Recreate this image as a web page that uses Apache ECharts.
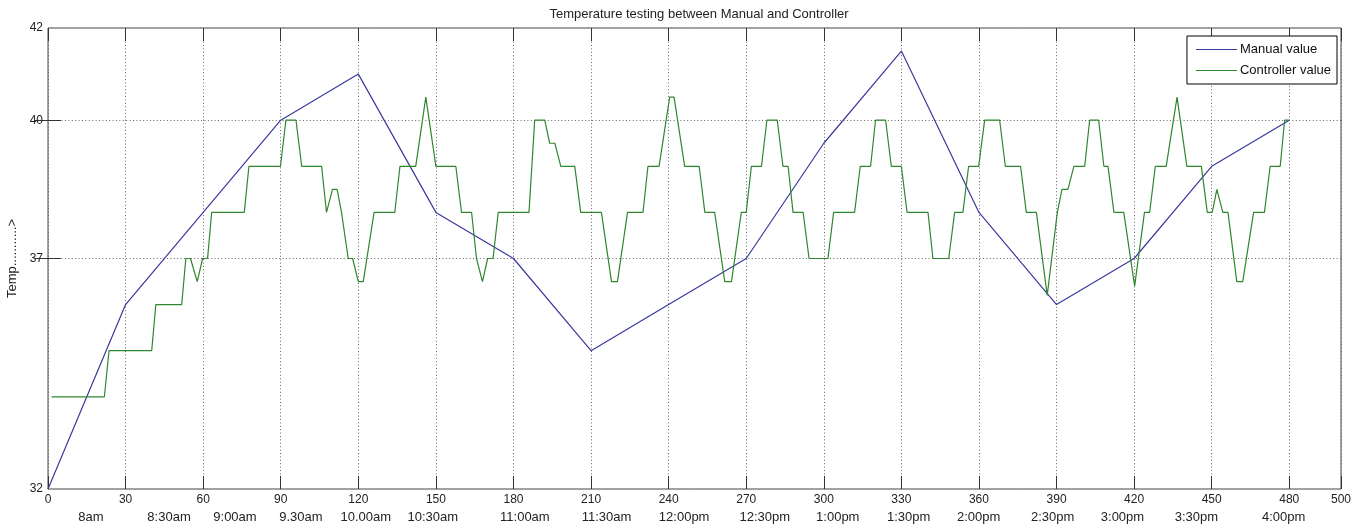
<!DOCTYPE html>
<html lang="en">
<head>
    <meta charset="UTF-8">
    <title>Temperature testing between Manual and Controller</title>
    <style>
        html, body { margin: 0; padding: 0; background: #fff; }
        #main { width: 1370px; height: 532px; }
    </style>
    <script src="https://cdn.jsdelivr.net/npm/echarts@6/dist/echarts.min.js"></script>
</head>
<body>

<div id="main"></div>

<script>

    // manual readings, every 30 minutes
    var manualTime = [0, 30, 60, 90, 120, 150, 180, 210, 240, 270, 300, 330, 360, 390, 420, 450, 480];
    var manualTemp = [32, 36, 38, 40, 41, 38, 37, 35, 36, 37, 39.5, 41.5, 38, 36, 37, 39, 40];

    // controller readings (breakpoints of the trace)
    var ctrlTime = [1.4, 21.8, 23.6, 40.1, 41.7, 51.7, 53.3, 55.1, 57.7, 59.8, 61.7, 63.3, 75.9, 77.7, 89.9,
        92, 95.9, 98.1, 105.8, 107.7, 110, 111.8, 113.5, 116.1, 117.8, 120, 121.9, 126.1, 134.1, 136.1,
        142.2, 146.1, 150, 157.7, 159.9, 163.8, 165.7, 168, 170, 172.1, 174.1, 186, 188.2, 192.1, 194,
        196, 198.3, 203.7, 206, 214, 217.9, 220.2, 224.1, 230.1, 232, 236.3, 240.4, 242.1, 246.2, 251.8,
        254, 257.8, 261.7, 264.3, 268.1, 270, 272, 275.9, 278, 282, 284.2, 286.2, 288.1, 292, 294.3,
        301.6, 303.8, 311.9, 314.1, 318.1, 320, 323.9, 326.1, 330, 332.2, 340.3, 342.2, 348.3, 350.6,
        353.8, 356, 359.9, 362.2, 368, 370.2, 376.1, 378.3, 382.2, 386.4, 390.3, 392.1, 394.4, 396.7,
        400.9, 402.8, 406.3, 408.3, 409.9, 412.2, 416, 420.2, 424, 426, 428.2, 432.4, 436.6, 440.4,
        446, 448.3, 450.2, 452, 454.3, 456.3, 459.7, 462, 466.2, 470.4, 472.6, 476.5, 478.2, 480];
    var ctrlTemp = [34, 34, 35, 35, 36, 36, 37, 37, 36.5, 37, 37, 38, 38, 39, 39,
        40, 40, 39, 39, 38, 38.5, 38.5, 38, 37, 37, 36.5, 36.5, 38, 38, 39,
        39, 40.5, 39, 39, 38, 38, 37, 36.5, 37, 37, 38, 38, 40, 40, 39.5,
        39.5, 39, 39, 38, 38, 36.5, 36.5, 38, 38, 39, 39, 40.5, 40.5, 39, 39,
        38, 38, 36.5, 36.5, 38, 38, 39, 39, 40, 40, 39, 39, 38, 38, 37,
        37, 38, 38, 39, 39, 40, 40, 39, 39, 38, 38, 37, 37, 38,
        38, 39, 39, 40, 40, 39, 39, 38, 38, 36.2, 38, 38.5, 38.5, 39,
        39, 40, 40, 39, 39, 38, 38, 36.4, 38, 38, 39, 39, 40.5, 39,
        39, 38, 38, 38.5, 38, 38, 36.5, 36.5, 38, 38, 39, 39, 40, 40];

    // y tick labels and grid levels
    var yTicks = [32, 37, 40, 42];
    var yGrid = [37, 40];

    // clock-time labels under the minute axis (placed like the original xlabel)
    var timeLabels = ['8am', '8:30am', '9:00am', '9.30am', '10.00am', '10:30am', '11:00am', '11:30am',
        '12:00pm', '12:30pm', '1:00pm', '1:30pm', '2:00pm', '2:30pm', '3:00pm', '3:30pm', '4:00pm'];
    var timePos = [16.6, 46.8, 72.3, 97.8, 122.9, 148.8, 184.4, 216, 246, 277.2, 305.4, 332.8,
        359.9, 388.5, 415.5, 444.1, 477.8];

    var manualData = [];
    for (var i = 0; i < manualTime.length; i++) {
        manualData.push([manualTime[i], manualTemp[i]]);
    }
    var ctrlData = [];
    for (var i = 0; i < ctrlTime.length; i++) {
        ctrlData.push([ctrlTime[i], ctrlTemp[i]]);
    }

    var font = 'Liberation Sans, Arial, sans-serif';
    var dotted = { color: '#666', width: 1, type: [1, 2.4] };

    var chartDom = document.getElementById('main');
    var myChart = echarts.init(chartDom);
    var option;

    option = {
        animation: false,
        backgroundColor: '#fff',
        textStyle: { fontFamily: font },
        title: {
            text: 'Temperature testing between Manual and Controller',
            left: 694,
            textAlign: 'center',
            top: 3,
            textStyle: { fontSize: 13, fontWeight: 'normal', color: '#222', fontFamily: font }
        },
        legend: {
            data: ['Manual value', 'Controller value'],
            orient: 'vertical',
            right: 33,
            top: 36,
            icon: 'rect',
            itemWidth: 41,
            itemHeight: 1,
            itemGap: 8,
            padding: [7, 6, 7, 9],
            borderColor: '#000',
            borderWidth: 1,
            borderRadius: 0,
            backgroundColor: '#fff',
            textStyle: { fontSize: 13, color: '#111', fontFamily: font, padding: [0, 0, 0, -2] }
        },
        grid: {
            left: 48,
            right: 29,
            top: 28,
            bottom: 43,
            show: true,
            borderColor: '#444',
            borderWidth: 1,
            backgroundColor: '#fff',
            outerBoundsMode: 'none'
        },
        xAxis: [{
            type: 'value',
            position: 'bottom',
            min: 0,
            max: 500,
            interval: 30,
            axisLine: { show: false },
            axisTick: { show: true, inside: true, length: 13, lineStyle: { color: '#333' } },
            axisLabel: { fontSize: 12, color: '#222', margin: 5, fontFamily: font },
            splitLine: { show: true, lineStyle: dotted }
        }, {
            type: 'value',
            position: 'top',
            min: 0,
            max: 500,
            interval: 30,
            axisLine: { show: false },
            axisTick: { show: true, inside: true, length: 13, lineStyle: { color: '#333' } },
            axisLabel: { show: false },
            splitLine: { show: false }
        }, {
            type: 'value',
            position: 'bottom',
            min: 0,
            max: 500,
            axisLine: { show: false },
            axisTick: { show: false },
            splitLine: { show: false },
            axisLabel: {
                customValues: timePos,
                margin: 22,
                fontSize: 13,
                color: '#222',
                fontFamily: font,
                formatter: function (v) {
                    var k = timePos.indexOf(v);
                    return k >= 0 ? timeLabels[k] : '';
                }
            }
        }],
        yAxis: [{
            type: 'value',
            position: 'left',
            min: 32,
            max: 42,
            name: 'Temp...........>',
            nameLocation: 'middle',
            nameGap: 28,
            nameTextStyle: { fontSize: 13, color: '#222', fontFamily: font },
            axisLine: { show: false },
            axisTick: { show: true, inside: true, length: 13, customValues: yGrid, lineStyle: { color: '#333' } },
            axisLabel: { customValues: yTicks, fontSize: 12, color: '#222', margin: 5, fontFamily: font },
            splitLine: { show: true, lineStyle: dotted }
        }, {
            type: 'value',
            position: 'right',
            min: 32,
            max: 42,
            axisLine: { show: false },
            axisTick: { show: true, inside: true, length: 13, customValues: yGrid, lineStyle: { color: '#333' } },
            axisLabel: { show: false },
            splitLine: { show: false }
        }],
        series: [{
            name: 'Manual value',
            type: 'line',
            xAxisIndex: 0,
            yAxisIndex: 0,
            data: manualData,
            symbol: 'none',
            color: '#3a3a9e',
            lineStyle: { width: 1.2, color: '#3a3a9e' }
        }, {
            name: 'Controller value',
            type: 'line',
            xAxisIndex: 0,
            yAxisIndex: 0,
            data: ctrlData,
            symbol: 'none',
            color: '#2f862f',
            lineStyle: { width: 1.2, color: '#2f862f' }
        }]
    };

    option && myChart.setOption(option);

</script>

</body>
</html>
